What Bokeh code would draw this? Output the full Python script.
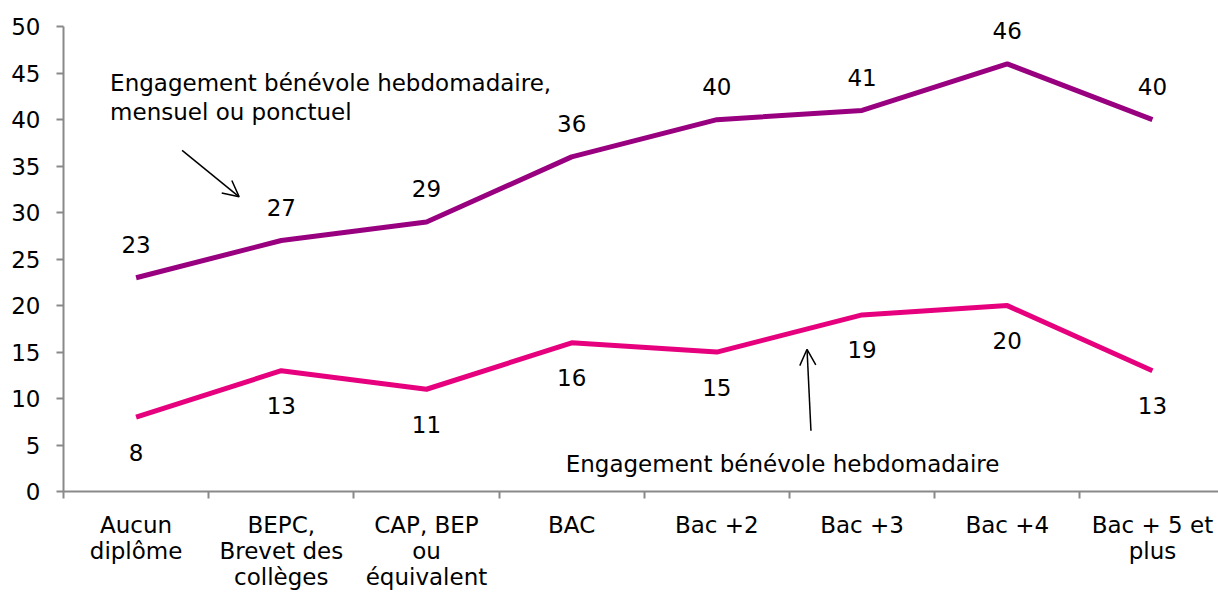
from bokeh.plotting import figure
from bokeh.models import Range1d, FixedTicker, Label, LabelSet, Arrow, OpenHead, ColumnDataSource
from bokeh.core.properties import value
from bokeh.embed import file_html
from bokeh.resources import INLINE

categories = ["Aucun\ndiplôme", "BEPC,\nBrevet des\ncollèges", "CAP, BEP\nou\néquivalent", "BAC",
              "Bac +2", "Bac +3", "Bac +4", "Bac + 5 et\nplus"]
total = [23, 27, 29, 36, 40, 41, 46, 40]
weekly = [8, 13, 11, 16, 15, 19, 20, 13]
y_ticks = [0, 5, 10, 15, 20, 25, 30, 35, 40, 45, 50]

FONT = "DejaVu Sans"
FS = "23px"
PURPLE = "#990080"
PINK = "#E6007E"
GREY = "#898989"

xs = list(range(len(categories)))

p = figure(width=1218, height=592, output_backend="svg", toolbar_location=None,
           x_range=Range1d(-0.5, 7.455), y_range=Range1d(0, 52.5),
           min_border_left=63, min_border_top=3, min_border_right=0, min_border_bottom=99)
p.outline_line_color = None
p.grid.grid_line_color = None

# y axis
p.yaxis.ticker = FixedTicker(ticks=y_ticks)
p.yaxis.bounds = (0, 50)
p.yaxis.axis_line_color = GREY
p.yaxis.axis_line_width = 2
p.yaxis.major_tick_line_color = GREY
p.yaxis.major_tick_line_width = 2
p.yaxis.major_tick_out = 7
p.yaxis.major_tick_in = 0
p.yaxis.minor_tick_line_color = None
p.yaxis.major_label_text_font = FONT
p.yaxis.major_label_text_font_size = FS
p.yaxis.major_label_text_color = "black"
p.yaxis.major_label_standoff = 16

# x axis
p.xaxis.ticker = FixedTicker(ticks=xs, minor_ticks=[i - 0.5 for i in range(len(categories) + 1)])
p.xaxis.major_label_overrides = {i: c for i, c in enumerate(categories)}
p.xaxis.axis_line_color = GREY
p.xaxis.axis_line_width = 2
p.xaxis.major_tick_line_color = None
p.xaxis.major_tick_out = 0
p.xaxis.major_tick_in = 0
p.xaxis.minor_tick_line_color = GREY
p.xaxis.minor_tick_line_width = 2
p.xaxis.minor_tick_out = 7
p.xaxis.minor_tick_in = 0
p.xaxis.major_label_text_font = FONT
p.xaxis.major_label_text_font_size = FS
p.xaxis.major_label_text_color = "black"
p.xaxis.major_label_text_line_height = 1.0
p.xaxis.major_label_standoff = 13

src = ColumnDataSource(dict(x=xs, total=total, weekly=weekly,
                            tl=[str(v) for v in total], wl=[str(v) for v in weekly]))

p.line("x", "total", source=src, line_color=PURPLE, line_width=5)
p.line("x", "weekly", source=src, line_color=PINK, line_width=5)

p.add_layout(LabelSet(x="x", y="total", text="tl", source=src, y_offset=33, text_align="center",
                      text_baseline="middle", text_font=value(FONT), text_font_size=value(FS),
                      text_color="black"))
p.add_layout(LabelSet(x="x", y="weekly", text="wl", source=src, y_offset=-35, text_align="center",
                      text_baseline="middle", text_font=value(FONT), text_font_size=value(FS),
                      text_color="black"))

# annotations
for txt, yy in [("Engagement bénévole hebdomadaire,", 43.9), ("mensuel ou ponctuel", 40.8)]:
    p.add_layout(Label(x=-0.179, y=yy, text=txt, text_align="left", text_baseline="middle",
                       text_font=FONT, text_font_size=FS, text_color="black"))
p.add_layout(Label(x=2.959, y=3.0, text="Engagement bénévole hebdomadaire", text_align="left",
                   text_baseline="middle", text_font=FONT, text_font_size=FS, text_color="black"))

p.add_layout(Arrow(x_start=0.317, y_start=36.7, x_end=0.710, y_end=31.7, line_color="black",
                   line_width=1.5, end=OpenHead(size=16, line_color="black", line_width=1.5)))
p.add_layout(Arrow(x_start=4.648, y_start=6.53, x_end=4.621, y_end=15.3, line_color="black",
                   line_width=1.5, end=OpenHead(size=16, line_color="black", line_width=1.5)))

open("out.html", "w").write(file_html(p, INLINE))
